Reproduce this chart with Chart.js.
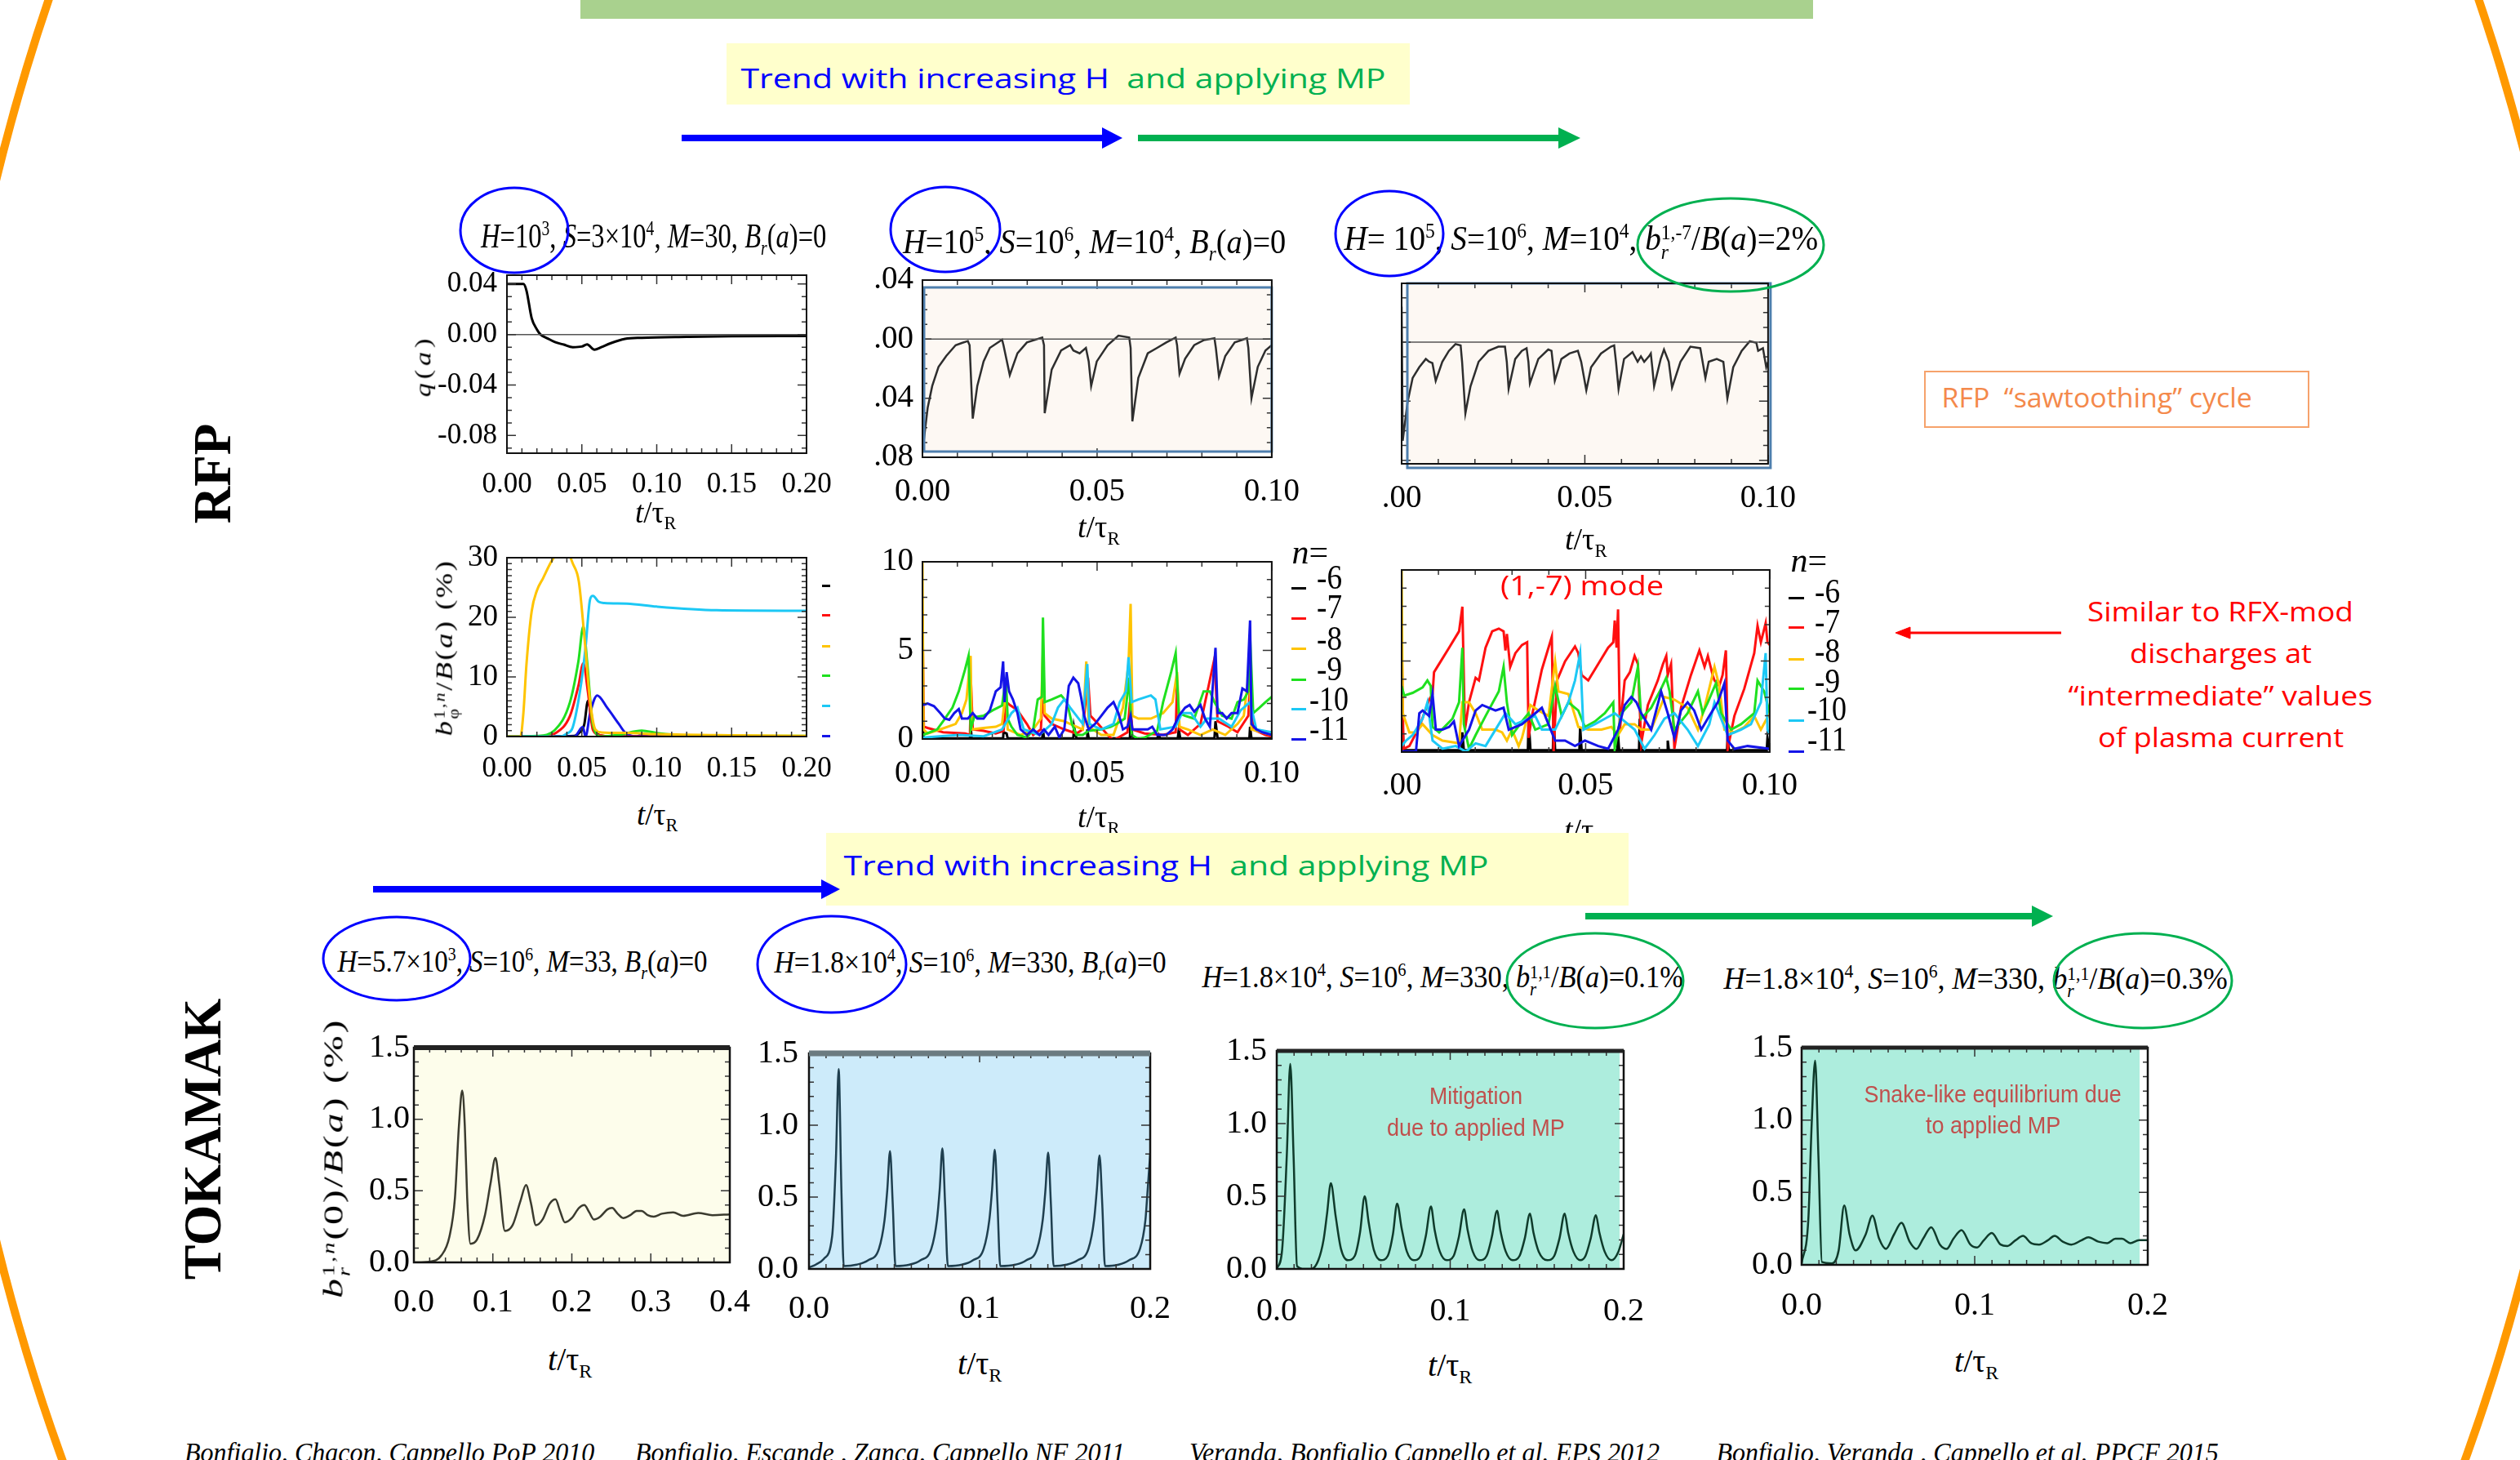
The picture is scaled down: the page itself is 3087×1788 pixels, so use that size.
<!DOCTYPE html>
<html>
<head>
<meta charset="utf-8">
<title>RFP / Tokamak trend with H and MP</title>
<script src="https://cdn.jsdelivr.net/npm/chart.js@4.4.1/dist/chart.umd.min.js"></script>
<style>
  html, body { margin: 0; padding: 0; background: #fff; }
  #page { position: relative; width: 3087px; height: 1788px; overflow: hidden; background: #fff; }
  #charts canvas { position: absolute; }
  .t { position: absolute; white-space: nowrap; line-height: 1; color: #000;
       font-family: 'Liberation Serif', 'Times New Roman', serif; transform-origin: 50% 50%; }
  .t sup, .t sub { line-height: 0; font-size: .6em; }
  .ss { display: inline-block; vertical-align: -0.45em; line-height: .95; font-size: .6em; }
  .ss span { display: block; }
  .sans { font-family: 'Open Sans', 'Noto Sans', sans-serif; }
  .narrow { font-family: 'Liberation Sans Narrow', 'Liberation Sans', sans-serif; }
  .box { position: absolute; }
  .dash { position: absolute; height: 3px; }
  #deco { position: absolute; left: 0; top: 0; }
</style>
</head>
<body>
<div id="page">
  <div class="box" style="left:711px;top:0;width:1510px;height:23px;background:#A9D18E;"></div>

  <div id="charts"></div>

  <!-- panel titles -->
  <div class="t" style="font-size:42px" data-cx="800" data-cy="289" data-w="423"><i>H</i>=10<sup>3</sup>, <i>S</i>=3×10<sup>4</sup>, <i>M</i>=30, <i>B<sub>r</sub></i>(<i>a</i>)=0</div>
  <div class="t" style="font-size:42px" data-cx="1340" data-cy="296" data-w="469"><i>H</i>=10<sup>5</sup>, <i>S</i>=10<sup>6</sup>, <i>M</i>=10<sup>4</sup>, <i>B<sub>r</sub></i>(<i>a</i>)=0</div>
  <div class="t" style="font-size:42px" data-cx="1937" data-cy="296" data-w="581"><i>H</i>= 10<sup>5</sup>, <i>S</i>=10<sup>6</sup>, <i>M</i>=10<sup>4</sup>, <i>b</i><span class="ss"><span>1,-7</span><span><i>r</i></span></span>/<i>B</i>(<i>a</i>)=2%</div>
  <div class="t" style="font-size:38px" data-cx="640" data-cy="1177" data-w="453"><i>H</i>=5.7×10<sup>3</sup>, <i>S</i>=10<sup>6</sup>, <i>M</i>=33, <i>B<sub>r</sub></i>(<i>a</i>)=0</div>
  <div class="t" style="font-size:38px" data-cx="1188" data-cy="1178" data-w="480"><i>H</i>=1.8×10<sup>4</sup>, <i>S</i>=10<sup>6</sup>, <i>M</i>=330, <i>B<sub>r</sub></i>(<i>a</i>)=0</div>
  <div class="t" style="font-size:38px" data-cx="1767" data-cy="1200" data-w="589"><i>H</i>=1.8×10<sup>4</sup>, <i>S</i>=10<sup>6</sup>, <i>M</i>=330, <i>b</i><span class="ss"><span>1,1</span><span><i>r</i></span></span>/<i>B</i>(<i>a</i>)=0.1%</div>
  <div class="t" style="font-size:38px" data-cx="2420" data-cy="1202" data-w="617"><i>H</i>=1.8×10<sup>4</sup>, <i>S</i>=10<sup>6</sup>, <i>M</i>=330, <i>b</i><span class="ss"><span>1,1</span><span><i>r</i></span></span>/<i>B</i>(<i>a</i>)=0.3%</div>

  <!-- axis titles -->
  <div class="t" style="font-size:37px" data-cx="803" data-cy="627"><i>t</i>/τ<sub>R</sub></div>
  <div class="t" style="font-size:37px" data-cx="805" data-cy="997"><i>t</i>/τ<sub>R</sub></div>
  <div class="t" style="font-size:38px" data-cx="1346" data-cy="645"><i>t</i>/τ<sub>R</sub></div>
  <div class="t" style="font-size:38px" data-cx="1346" data-cy="1000"><i>t</i>/τ<sub>R</sub></div>
  <div class="t" style="font-size:38px" data-cx="1943" data-cy="660"><i>t</i>/τ<sub>R</sub></div>
  <div class="t" style="font-size:38px" data-cx="1942" data-cy="1016"><i>t</i>/τ<sub>R</sub></div>
  <div class="t" style="font-size:40px" data-cx="698" data-cy="1665"><i>t</i>/τ<sub>R</sub></div>
  <div class="t" style="font-size:40px" data-cx="1200" data-cy="1670"><i>t</i>/τ<sub>R</sub></div>
  <div class="t" style="font-size:40px" data-cx="1776" data-cy="1672"><i>t</i>/τ<sub>R</sub></div>
  <div class="t" style="font-size:40px" data-cx="2421" data-cy="1667"><i>t</i>/τ<sub>R</sub></div>

  <div class="t" style="font-size:28px;letter-spacing:4px" data-cx="518" data-cy="448" data-w="77" data-rot="1"><i>q</i>(<i>a</i>)</div>
  <div class="t" style="font-size:30px;letter-spacing:2px" data-cx="547" data-cy="793" data-w="217" data-rot="1"><i>b</i><span class="ss"><span>1,<i>n</i></span><span>φ</span></span>/<i>B</i>(<i>a</i>) (%)</div>
  <div class="t" style="font-size:34px;letter-spacing:2px" data-cx="412" data-cy="1418" data-w="344" data-rot="1"><i>b</i><span class="ss"><span>1,<i>n</i></span><span><i>r</i></span></span>(0)/<i>B</i>(<i>a</i>) (%)</div>

  <div class="t" style="font-size:66px;font-weight:bold" data-cx="260" data-cy="580" data-w="122" data-rot="1">RFP</div>
  <div class="t" style="font-size:66px;font-weight:bold" data-cx="248" data-cy="1395" data-w="344" data-rot="1">TOKAMAK</div>

  <!-- mode legends -->
  <div id="legends"></div>
  <div class="t" style="font-size:42px" data-cx="1605" data-cy="676"><i>n</i>=</div>
  <div class="t" style="font-size:42px" data-cx="2216" data-cy="686"><i>n</i>=</div>

  <div class="t sans" style="font-size:33px;color:#FF0000" data-cx="1938" data-cy="716" data-w="200">(1,-7) mode</div>

  <div class="t narrow" style="font-size:29px;color:#C0504D" data-cx="1808" data-cy="1342" data-w="114">Mitigation</div>
  <div class="t narrow" style="font-size:29px;color:#C0504D" data-cx="1808" data-cy="1381" data-w="218">due to applied MP</div>
  <div class="t narrow" style="font-size:29px;color:#C0504D" data-cx="2441" data-cy="1340" data-w="315">Snake-like equilibrium due</div>
  <div class="t narrow" style="font-size:29px;color:#C0504D" data-cx="2441" data-cy="1378" data-w="165">to applied MP</div>

  <!-- right column notes -->
  <div class="box" style="left:2357px;top:454px;width:468px;height:66px;border:2px solid #F6A26B;"></div>
  <div class="t sans" style="font-size:32px;color:#F4894B" data-cx="2568" data-cy="487" data-w="380">RFP&nbsp; “sawtoothing” cycle</div>
  <div class="t sans" style="font-size:33px;color:#FF0000" data-cx="2720" data-cy="748" data-w="326">Similar to RFX-mod</div>
  <div class="t sans" style="font-size:33px;color:#FF0000" data-cx="2720" data-cy="799" data-w="223">discharges at</div>
  <div class="t sans" style="font-size:33px;color:#FF0000" data-cx="2720" data-cy="851" data-w="373">“intermediate” values</div>
  <div class="t sans" style="font-size:33px;color:#FF0000" data-cx="2720" data-cy="902" data-w="301">of plasma current</div>

  <!-- trend boxes -->
  <div class="box" style="left:890px;top:53px;width:837px;height:75px;background:#FFFFCC;"></div>
  <div class="t sans" style="font-size:32px" data-cx="1302" data-cy="96" data-w="790"><span style="color:#0000FF">Trend with increasing H</span>&nbsp;&nbsp;<span style="color:#00B050">and applying MP</span></div>
  <div class="box" style="left:1012px;top:1020px;width:983px;height:89px;background:#FFFFCC;"></div>
  <div class="t sans" style="font-size:32px" data-cx="1428" data-cy="1060" data-w="790"><span style="color:#0000FF">Trend with increasing H</span>&nbsp;&nbsp;<span style="color:#00B050">and applying MP</span></div>

  <!-- references -->
  <div class="t" style="font-size:33px;font-style:italic" data-cx="477" data-cy="1779" data-w="502">Bonfiglio, Chacon, Cappello PoP 2010</div>
  <div class="t" style="font-size:33px;font-style:italic" data-cx="1078" data-cy="1779" data-w="600">Bonfiglio, Escande , Zanca, Cappello NF 2011</div>
  <div class="t" style="font-size:33px;font-style:italic" data-cx="1745" data-cy="1779" data-w="576">Veranda, Bonfiglio Cappello et al. EPS 2012</div>
  <div class="t" style="font-size:33px;font-style:italic" data-cx="2410" data-cy="1779" data-w="615">Bonfiglio, Veranda , Cappello et al. PPCF 2015</div>

  <svg id="deco" width="3087" height="1788" viewBox="0 0 3087 1788">
    <ellipse cx="1548" cy="870" rx="1630" ry="2135" fill="none" stroke="#FF9900" stroke-width="10"/>
    <g fill="none" stroke="#0000FF" stroke-width="3">
      <ellipse cx="630" cy="282" rx="66" ry="52"/>
      <ellipse cx="1158" cy="281" rx="67" ry="52"/>
      <ellipse cx="1702" cy="286" rx="66" ry="52"/>
      <ellipse cx="486" cy="1174" rx="90" ry="51"/>
      <ellipse cx="1019" cy="1181" rx="91" ry="59"/>
    </g>
    <g fill="none" stroke="#00B050" stroke-width="3">
      <ellipse cx="2120" cy="300" rx="114" ry="57"/>
      <ellipse cx="1954" cy="1201" rx="108" ry="58"/>
      <ellipse cx="2625" cy="1201" rx="109" ry="58"/>
    </g>
    <g fill="#0000FF">
      <rect x="835" y="165" width="517" height="8"/>
      <polygon points="1350,156 1375,169 1350,182"/>
      <rect x="457" y="1085" width="551" height="8"/>
      <polygon points="1006,1077 1029,1089 1006,1101"/>
    </g>
    <g fill="#00B050">
      <rect x="1394" y="165" width="517" height="8"/>
      <polygon points="1909,156 1936,169 1909,182"/>
      <rect x="1942" y="1118" width="549" height="8"/>
      <polygon points="2489,1109 2515,1122 2489,1135"/>
    </g>
    <g fill="#FF0000" stroke="#FF0000">
      <line x1="2525" y1="775" x2="2336" y2="775" stroke-width="3"/>
      <polygon points="2322,775 2340,768 2340,782" stroke-width="1"/>
    </g>
  </svg>
</div>

<script>
// ---- data (t / tau_R, value) ----

// RFP, H=1e3: q(a)
const qa_H1e3 = [[0,0.040],[0.011,0.040],[0.013,0.035],[0.0165,0.013],[0.020,0.004],[0.0224,0.000],[0.027,-0.003],[0.032,-0.006],[0.038,-0.008],[0.044,-0.0100],[0.050,-0.0095],[0.0535,-0.0078],[0.0584,-0.0120],[0.063,-0.0100],[0.069,-0.0070],[0.0788,-0.0035],[0.090,-0.0026],[0.120,-0.0018],[0.150,-0.0013],[0.200,-0.0012]];

// RFP, H=1e3: b_phi^(1,n)/B(a) (%)
const bphi_H1e3_n6 = [[0,0],[0.045,0.1],[0.0477,0.5],[0.0516,2],[0.0541,6],[0.0574,1.6],[0.0613,0.3],[0.070,0],[0.200,0]];
const bphi_H1e3_n7 = [[0,0],[0.025,0.1],[0.032,0.5],[0.042,3.4],[0.0477,8.5],[0.051,12.3],[0.054,7.6],[0.0574,1.1],[0.062,0.2],[0.070,0],[0.200,0]];
const bphi_H1e3_n8 = [[0,0],[0.009,0],[0.011,4],[0.013,12],[0.0165,21],[0.020,24.5],[0.024,26.5],[0.030,29.5],[0.035,31],[0.040,31],[0.044,29],[0.048,26],[0.0516,17],[0.0555,6],[0.059,1.2],[0.063,0.7],[0.080,0.6],[0.100,0.4],[0.150,0.2],[0.200,0.1]];
const bphi_H1e3_n9 = [[0,0],[0.020,0.1],[0.032,1.1],[0.042,5.7],[0.0477,12.6],[0.051,18.5],[0.0535,12.6],[0.0574,2],[0.063,0],[0.075,0.3],[0.090,1.0],[0.100,0.6],[0.120,0.2],[0.200,0.1]];
const bphi_H1e3_n10 = [[0,0],[0.035,0],[0.040,0.5],[0.044,1.6],[0.0496,9],[0.0525,15],[0.0555,23],[0.0574,23.6],[0.0613,22.6],[0.065,22.4],[0.080,22.3],[0.100,21.8],[0.140,21.2],[0.200,21.1]];
const bphi_H1e3_n11 = [[0,0],[0.045,0],[0.0506,1.6],[0.0525,0],[0.0555,3.9],[0.0603,6.9],[0.067,4.8],[0.075,2],[0.0788,0.7],[0.0866,0],[0.090,0.3],[0.095,0],[0.200,0]];

// RFP, H=1e5: q(a)
const qa_H1e5 = [[0,0.020],[0.0002,-0.0722],[0.0015,-0.0464],[0.0028,-0.0317],[0.0046,-0.0188],[0.0068,-0.0114],[0.0095,-0.0041],[0.0113,-0.0026],[0.0130,-0.0013],[0.0135,-0.0041],[0.0144,-0.0538],[0.0157,-0.0317],[0.0175,-0.0151],[0.0193,-0.0059],[0.0228,-0.0004],[0.0232,-0.0041],[0.0250,-0.0243],[0.0272,-0.0096],[0.0299,-0.0022],[0.0343,0.0011],[0.0348,-0.0041],[0.0350,-0.0501],[0.0370,-0.0206],[0.0397,-0.0077],[0.0423,-0.0041],[0.0432,-0.0077],[0.0450,-0.0096],[0.0468,-0.0059],[0.0476,-0.0151],[0.0483,-0.0317],[0.0499,-0.0151],[0.0530,-0.0041],[0.0561,0.0024],[0.0592,0.0011],[0.0596,-0.0059],[0.0601,-0.0557],[0.0618,-0.0262],[0.0645,-0.0096],[0.0672,-0.0059],[0.0698,-0.0022],[0.0725,0.0011],[0.0729,-0.0041],[0.0736,-0.0234],[0.0752,-0.0133],[0.0778,-0.0041],[0.0805,-0.0007],[0.0836,0.0006],[0.0840,-0.0059],[0.0849,-0.0252],[0.0867,-0.0114],[0.0894,-0.0022],[0.0929,0.0006],[0.0933,-0.0059],[0.0942,-0.0400],[0.0960,-0.0188],[0.0982,-0.0077],[0.1000,-0.0041]];

// RFP, H=1e5 with b_r^(1,-7)=2%: q(a)
const qa_H1e5_MP = [[0,0.024],[0.0003,-0.0668],[0.0016,-0.0409],[0.0030,-0.0243],[0.0048,-0.0170],[0.0066,-0.0114],[0.0075,-0.0133],[0.0084,-0.0142],[0.0093,-0.0262],[0.0111,-0.0133],[0.0129,-0.0059],[0.0147,-0.0013],[0.0161,-0.0022],[0.0165,-0.0133],[0.0174,-0.0483],[0.0188,-0.0299],[0.0210,-0.0133],[0.0237,-0.0059],[0.0264,-0.0031],[0.0282,-0.0031],[0.0287,-0.0133],[0.0292,-0.0317],[0.0310,-0.0114],[0.0328,-0.0059],[0.0341,-0.0041],[0.0346,-0.0133],[0.0350,-0.0280],[0.0373,-0.0114],[0.0400,-0.0050],[0.0409,-0.0059],[0.0418,-0.0262],[0.0436,-0.0114],[0.0458,-0.0077],[0.0481,-0.0059],[0.0490,-0.0133],[0.0504,-0.0326],[0.0517,-0.0170],[0.0544,-0.0077],[0.0571,-0.0031],[0.0580,-0.0022],[0.0585,-0.0133],[0.0592,-0.0317],[0.0607,-0.0114],[0.0630,-0.0068],[0.0644,-0.0133],[0.0653,-0.0096],[0.0662,-0.0133],[0.0675,-0.0096],[0.0680,-0.0077],[0.0684,-0.0170],[0.0689,-0.0299],[0.0707,-0.0114],[0.0716,-0.0050],[0.0729,-0.0133],[0.0738,-0.0308],[0.0761,-0.0133],[0.0788,-0.0031],[0.0815,-0.0041],[0.0829,-0.0243],[0.0838,-0.0133],[0.0860,-0.0114],[0.0878,-0.0133],[0.0889,-0.0382],[0.0905,-0.0170],[0.0928,-0.0059],[0.0950,0.0006],[0.0968,-0.0004],[0.0973,-0.0059],[0.0986,-0.0041],[0.0995,-0.0170],[0.1000,-0.0133]];

// RFP, H=1e5: b^(1,n)/B(a) (%)
const br_H1e5_n6 = [[0,3.62],[0.0003,0.03],[0.0136,0.03],[0.0138,0.69],[0.0141,0.03],[0.0231,0.03],[0.0232,0.38],[0.0241,0.31],[0.0244,0.03],[0.0343,0.03],[0.0345,0.54],[0.0348,0.03],[0.0432,0.03],[0.0434,0.69],[0.0441,0.03],[0.0470,0.03],[0.0472,0.54],[0.0476,0.03],[0.0594,0.03],[0.0596,1.46],[0.0601,0.03],[0.0672,0.03],[0.0676,0.23],[0.0681,0.03],[0.0731,0.03],[0.0734,0.54],[0.0738,0.03],[0.0836,0.03],[0.0839,1.0],[0.0845,0.03],[0.0936,0.03],[0.0938,0.69],[0.0942,0.03],[0.1000,0.03]];
const br_H1e5_n7 = [[0,7.15],[0.0004,0.69],[0.0015,0.62],[0.0059,0.38],[0.0122,0.31],[0.0136,0.23],[0.0139,3.15],[0.0144,0.54],[0.0175,0.46],[0.0210,0.31],[0.0232,0.46],[0.0241,2.08],[0.0250,1.92],[0.0272,1.62],[0.0299,0.85],[0.0317,0.23],[0.0339,0.54],[0.0343,2.08],[0.0350,1.31],[0.0370,0.85],[0.0406,0.54],[0.0441,0.31],[0.0459,0.54],[0.0474,3.46],[0.0481,1.31],[0.0503,0.85],[0.0530,0.23],[0.0547,-0.08],[0.0587,0.38],[0.0594,2.08],[0.0601,0.54],[0.0636,0.31],[0.0689,0.23],[0.0725,0.38],[0.0729,3.15],[0.0736,0.54],[0.0760,0.23],[0.0796,0.85],[0.0836,4.54],[0.0845,1.0],[0.0876,0.69],[0.0902,0.38],[0.0933,1.31],[0.0938,3.15],[0.0947,0.54],[0.0982,0.23],[0.1000,0.15]];
const br_H1e5_n8 = [[0,10],[0.0003,0.54],[0.0015,0.31],[0.0051,0.54],[0.0095,0.85],[0.0113,1.46],[0.0126,2.23],[0.0138,4.69],[0.0141,0.54],[0.0175,0.62],[0.0210,0.69],[0.0228,0.85],[0.0239,2.85],[0.0244,0.54],[0.0281,0.23],[0.0317,0.54],[0.0339,1.15],[0.0345,5.0],[0.0350,1.46],[0.0370,1.15],[0.0406,1.0],[0.0423,0.85],[0.0459,0.54],[0.0469,4.38],[0.0476,0.69],[0.0512,0.23],[0.0547,0.23],[0.0574,1.77],[0.0590,4.23],[0.0596,7.62],[0.0601,1.31],[0.0618,1.15],[0.0654,1.15],[0.0689,1.46],[0.0716,2.08],[0.0729,3.77],[0.0736,0.69],[0.0760,0.54],[0.0796,0.23],[0.0831,0.54],[0.0867,0.23],[0.0902,0.85],[0.0920,1.31],[0.0935,3.77],[0.0942,0.54],[0.1000,0.23]];
const br_H1e5_n9 = [[0.0002,0.23],[0.0042,0.54],[0.0059,1.0],[0.0086,1.77],[0.0104,2.69],[0.0122,3.92],[0.0132,4.69],[0.0138,0.54],[0.0148,1.23],[0.0175,1.31],[0.0201,1.62],[0.0228,1.89],[0.0239,3.46],[0.0244,1.15],[0.0255,0.69],[0.0272,0.23],[0.0299,0.08],[0.0317,0.54],[0.0330,2.23],[0.0342,2.38],[0.0345,6.85],[0.0350,2.08],[0.0370,2.23],[0.0397,2.46],[0.0414,2.08],[0.0428,0.85],[0.0441,0.23],[0.0459,0.23],[0.0476,0.46],[0.0512,0.54],[0.0539,0.69],[0.0556,0.85],[0.0579,1.15],[0.0592,3.46],[0.0599,0.23],[0.0618,0],[0.0636,0.08],[0.0672,0.46],[0.0689,2.08],[0.0712,3.77],[0.0725,4.85],[0.0734,1.46],[0.0752,1.31],[0.0778,1.15],[0.0805,2.69],[0.0823,2.69],[0.0836,2.08],[0.0858,1.31],[0.0885,1.15],[0.0902,2.08],[0.0920,2.23],[0.0933,2.69],[0.0938,5.77],[0.0947,1.46],[0.0965,1.77],[0.0982,2.08],[0.1000,2.38]];
const br_H1e5_n10 = [[0.0002,0.08],[0.0104,0.23],[0.0175,0.15],[0.0228,0.54],[0.0255,1.46],[0.0272,1.77],[0.0290,0.54],[0.0335,0.23],[0.0370,0.85],[0.0388,1.77],[0.0406,2.23],[0.0423,1.77],[0.0459,0.85],[0.0472,4.23],[0.0478,0.85],[0.0512,0.54],[0.0547,0.85],[0.0565,2.08],[0.0583,2.69],[0.0590,4.62],[0.0599,2.08],[0.0618,2.23],[0.0654,2.46],[0.0667,2.23],[0.0681,0.54],[0.0725,0.69],[0.0743,1.46],[0.0769,1.46],[0.0796,0.69],[0.0814,1.15],[0.0849,1.15],[0.0885,0.69],[0.0911,1.62],[0.0938,2.08],[0.0956,0.54],[0.1000,0.38]];
const br_H1e5_n11 = [[0.0002,1.92],[0.0015,2.0],[0.0033,1.85],[0.0051,1.46],[0.0064,1.15],[0.0077,1.08],[0.0091,1.46],[0.0104,1.69],[0.0113,1.15],[0.0130,1.15],[0.0144,1.46],[0.0157,1.15],[0.0175,1.15],[0.0193,1.62],[0.0210,2.69],[0.0224,2.92],[0.0231,4.38],[0.0235,2.08],[0.0241,3.77],[0.0248,2.69],[0.0259,2.23],[0.0272,1.46],[0.0281,0.54],[0.0299,0.23],[0.0317,0.54],[0.0335,0.23],[0.0348,0.54],[0.0361,0.23],[0.0379,0.69],[0.0392,0.08],[0.0406,0.54],[0.0419,3.0],[0.0432,3.46],[0.0446,3.15],[0.0454,2.38],[0.0463,1.31],[0.0476,0.54],[0.0494,0.85],[0.0512,1.31],[0.0530,1.77],[0.0547,2.08],[0.0561,1.46],[0.0574,0.54],[0.0587,0.69],[0.0596,1.31],[0.0601,0.54],[0.0618,0.54],[0.0645,0.54],[0.0658,0.69],[0.0672,0.23],[0.0698,0.23],[0.0716,0.54],[0.0734,1.31],[0.0752,1.77],[0.0765,1.92],[0.0778,1.54],[0.0796,1.92],[0.0809,1.15],[0.0823,0.69],[0.0839,5.15],[0.0845,1.46],[0.0858,1.46],[0.0871,1.15],[0.0885,1.46],[0.0902,1.46],[0.0916,2.85],[0.0929,2.69],[0.0938,6.69],[0.0942,0.85],[0.0956,0.54],[0.0973,0.38],[0.1000,0.23]];

// RFP, H=1e5 with MP: b^(1,n)/B(a) (%)
const br_MP_n6 = [[0,3.70],[0.0005,0.10],[0.0163,0.10],[0.0165,1.08],[0.0169,0.10],[0.0343,0.10],[0.0345,1.83],[0.0350,0.10],[0.0411,0.10],[0.0413,1.98],[0.0417,0.10],[0.0483,0.10],[0.0485,1.38],[0.0489,0.10],[0.0586,0.10],[0.0588,0.93],[0.0591,0.10],[0.0645,0.10],[0.0647,1.83],[0.0651,0.10],[0.0721,0.10],[0.0723,0.63],[0.0726,0.10],[0.0884,0.10],[0.0886,0.93],[0.0889,0.10],[0.0992,0.10],[0.0994,0.78],[0.1000,0.10]];
const br_MP_n7 = [[0,6.48],[0.0005,0.18],[0.0021,0.33],[0.0048,1.38],[0.0075,2.88],[0.0084,3.18],[0.0088,4.38],[0.0097,4.68],[0.0129,5.73],[0.0156,6.63],[0.0165,7.98],[0.0172,1.23],[0.0183,2.73],[0.0201,4.08],[0.0210,3.93],[0.0228,5.73],[0.0246,6.63],[0.0264,6.78],[0.0277,6.63],[0.0282,5.58],[0.0286,6.48],[0.0295,4.68],[0.0309,5.43],[0.0327,5.88],[0.0341,6.03],[0.0345,0.78],[0.0354,1.98],[0.0381,4.53],[0.0408,6.33],[0.0413,0.03],[0.0422,3.93],[0.0444,4.98],[0.0471,5.80],[0.0480,5.43],[0.0489,4.23],[0.0507,3.93],[0.0534,4.83],[0.0561,5.73],[0.0575,6.03],[0.0579,7.23],[0.0584,5.73],[0.0588,7.83],[0.0593,1.23],[0.0606,3.93],[0.0620,4.38],[0.0633,5.28],[0.0642,4.83],[0.0651,0.48],[0.0669,2.58],[0.0696,3.93],[0.0710,4.83],[0.0719,5.28],[0.0723,4.23],[0.0732,4.83],[0.0741,0.18],[0.0759,2.43],[0.0786,4.23],[0.0809,5.58],[0.0823,4.68],[0.0832,5.28],[0.0845,4.23],[0.0850,3.93],[0.0863,3.63],[0.0872,4.23],[0.0881,5.58],[0.0886,0.18],[0.0904,1.98],[0.0931,3.48],[0.0958,5.43],[0.0967,6.93],[0.0976,6.03],[0.0989,7.08],[0.0994,6.03],[0.1000,5.88]];
const br_MP_n8 = [[0,10],[0.0003,2.13],[0.0021,1.08],[0.0039,1.08],[0.0057,1.53],[0.0084,0.93],[0.0111,0.63],[0.0156,0.48],[0.0165,2.73],[0.0183,2.73],[0.0201,2.13],[0.0219,1.23],[0.0255,1.23],[0.0273,1.08],[0.0286,0.63],[0.0300,1.23],[0.0318,0.33],[0.0327,0.78],[0.0350,2.58],[0.0372,2.28],[0.0399,1.98],[0.0417,4.98],[0.0426,3.33],[0.0453,3.18],[0.0480,1.38],[0.0507,1.23],[0.0543,1.23],[0.0570,1.38],[0.0588,0.93],[0.0606,1.53],[0.0633,1.53],[0.0651,1.23],[0.0678,1.23],[0.0714,3.03],[0.0741,2.88],[0.0777,2.43],[0.0805,1.23],[0.0823,2.43],[0.0850,4.68],[0.0863,3.63],[0.0877,1.23],[0.0904,1.08],[0.0931,1.38],[0.0958,1.98],[0.0976,1.23],[0.1000,2.13]];
const br_MP_n9 = [[0,3.63],[0.0007,3.10],[0.0030,3.25],[0.0057,3.55],[0.0070,3.93],[0.0079,3.63],[0.0084,1.38],[0.0102,1.08],[0.0138,1.83],[0.0156,2.73],[0.0165,5.73],[0.0169,1.53],[0.0183,0.18],[0.0201,0.93],[0.0228,1.98],[0.0264,3.33],[0.0277,4.68],[0.0286,2.73],[0.0300,0.93],[0.0327,1.68],[0.0345,2.13],[0.0363,1.23],[0.0399,1.53],[0.0417,3.63],[0.0435,1.98],[0.0453,2.73],[0.0480,2.28],[0.0498,1.38],[0.0525,1.68],[0.0552,2.13],[0.0575,2.73],[0.0579,0.18],[0.0597,2.13],[0.0624,2.73],[0.0642,4.68],[0.0651,1.83],[0.0678,2.43],[0.0705,3.48],[0.0719,4.08],[0.0728,3.33],[0.0741,1.23],[0.0777,2.13],[0.0805,3.33],[0.0818,2.13],[0.0832,2.73],[0.0854,3.78],[0.0868,2.13],[0.0895,1.23],[0.0922,1.53],[0.0958,2.13],[0.0967,3.93],[0.0985,3.33],[0.1000,2.13]];
const br_MP_n10 = [[0,0.33],[0.0012,0.63],[0.0030,0.93],[0.0057,1.83],[0.0070,2.73],[0.0084,0.63],[0.0111,0.18],[0.0147,0.33],[0.0174,0.03],[0.0201,0.48],[0.0228,0.33],[0.0264,1.53],[0.0282,2.13],[0.0309,1.53],[0.0345,1.83],[0.0363,1.98],[0.0381,1.23],[0.0417,1.23],[0.0453,2.73],[0.0471,3.93],[0.0485,5.43],[0.0494,1.23],[0.0525,1.53],[0.0552,1.83],[0.0579,2.13],[0.0597,1.83],[0.0633,1.23],[0.0660,0.18],[0.0687,0.93],[0.0714,1.83],[0.0741,2.13],[0.0777,1.23],[0.0805,0.33],[0.0836,1.53],[0.0850,2.73],[0.0886,0.93],[0.0922,1.23],[0.0949,1.53],[0.0976,2.73],[0.0989,5.43],[0.0994,1.23],[0.1000,1.00]];
const br_MP_n11 = [[0,0.03],[0.0039,0.03],[0.0048,2.13],[0.0057,2.28],[0.0075,1.98],[0.0084,3.18],[0.0093,1.23],[0.0111,1.23],[0.0129,1.38],[0.0142,1.68],[0.0156,0.33],[0.0183,1.23],[0.0201,2.28],[0.0219,2.58],[0.0255,2.28],[0.0277,2.43],[0.0291,1.23],[0.0327,1.53],[0.0363,2.13],[0.0381,2.43],[0.0399,1.53],[0.0417,0.63],[0.0444,0.63],[0.0471,0.33],[0.0498,0.63],[0.0534,0.33],[0.0561,0.18],[0.0588,1.23],[0.0606,2.58],[0.0624,3.03],[0.0638,2.73],[0.0651,2.13],[0.0678,1.23],[0.0705,3.33],[0.0723,2.13],[0.0741,0.78],[0.0759,2.28],[0.0777,2.73],[0.0795,2.28],[0.0814,1.23],[0.0836,1.98],[0.0859,2.73],[0.0877,3.78],[0.0886,0.63],[0.0904,0.18],[0.0940,0.33],[0.1000,0.18]];

// Tokamak: b_r^(1,n)(0)/B(a) (%)
const tok_H57e2 = [[0,0],[0.02,0.005],[0.035,0.05],[0.045,0.18],[0.052,0.45],[0.057,0.95],[0.0612,1.20],[0.0645,0.95],[0.0675,0.45],[0.0717,0.13],[0.080,0.16],[0.090,0.33],[0.097,0.55],[0.1033,0.73],[0.108,0.55],[0.1153,0.22],[0.125,0.26],[0.135,0.43],[0.142,0.54],[0.148,0.42],[0.1546,0.26],[0.163,0.30],[0.172,0.41],[0.1793,0.44],[0.185,0.36],[0.1912,0.28],[0.200,0.31],[0.209,0.38],[0.2158,0.40],[0.222,0.35],[0.2278,0.30],[0.236,0.32],[0.245,0.37],[0.251,0.38],[0.258,0.34],[0.265,0.31],[0.274,0.33],[0.282,0.36],[0.2883,0.36],[0.296,0.33],[0.3037,0.32],[0.314,0.34],[0.3283,0.35],[0.341,0.325],[0.360,0.345],[0.378,0.33],[0.400,0.335]];
const tok_H18e3 = [[0,0.01],[0.004,0.03],[0.0087,0.07],[0.0136,0.23],[0.0158,0.77],[0.0174,1.39],[0.019,0.55],[0.0204,0.02],[0.028,0.03],[0.0346,0.06],[0.041,0.14],[0.0443,0.34],[0.0459,0.55],[0.0475,0.82],[0.0491,0.45],[0.0507,0.02],[0.059,0.03],[0.0653,0.06],[0.0717,0.14],[0.075,0.34],[0.0766,0.55],[0.0782,0.84],[0.0798,0.45],[0.0814,0.02],[0.0897,0.03],[0.096,0.06],[0.1024,0.14],[0.1057,0.34],[0.1073,0.55],[0.1089,0.83],[0.1105,0.45],[0.1121,0.02],[0.121,0.03],[0.1273,0.06],[0.1337,0.14],[0.137,0.34],[0.1386,0.55],[0.1402,0.81],[0.1418,0.45],[0.1434,0.02],[0.151,0.03],[0.1574,0.06],[0.1638,0.14],[0.1671,0.34],[0.1687,0.55],[0.1703,0.79],[0.1719,0.45],[0.1735,0.02],[0.1815,0.03],[0.1875,0.06],[0.194,0.14],[0.1972,0.34],[0.1985,0.55],[0.2,0.80]];
const tok_MP01 = [[0,0],[0.0031,0.13],[0.0058,0.78],[0.0078,1.41],[0.0097,0.78],[0.0117,0.02],[0.016,0.0],[0.020,0.0],[0.024,0.06],[0.027,0.2],[0.029,0.38],[0.0312,0.59],[0.034,0.36],[0.037,0.14],[0.041,0.06],[0.045,0.09],[0.048,0.25],[0.0507,0.50],[0.053,0.32],[0.056,0.13],[0.060,0.06],[0.064,0.09],[0.067,0.24],[0.0694,0.45],[0.072,0.28],[0.075,0.12],[0.079,0.06],[0.083,0.09],[0.086,0.23],[0.0889,0.43],[0.091,0.27],[0.094,0.12],[0.098,0.06],[0.102,0.09],[0.105,0.22],[0.108,0.41],[0.110,0.27],[0.113,0.12],[0.117,0.06],[0.121,0.09],[0.124,0.22],[0.127,0.40],[0.129,0.26],[0.132,0.12],[0.136,0.06],[0.140,0.09],[0.143,0.21],[0.146,0.38],[0.148,0.25],[0.151,0.12],[0.156,0.06],[0.160,0.09],[0.163,0.21],[0.166,0.38],[0.168,0.25],[0.171,0.12],[0.175,0.06],[0.178,0.09],[0.181,0.21],[0.184,0.37],[0.186,0.25],[0.189,0.12],[0.193,0.06],[0.197,0.12],[0.200,0.24]];
const tok_MP03 = [[0,0.01],[0.0039,0.32],[0.0058,0.97],[0.0078,1.41],[0.0097,0.75],[0.0117,0.02],[0.0175,0.01],[0.0214,0.10],[0.0246,0.41],[0.0277,0.21],[0.0312,0.10],[0.037,0.21],[0.0409,0.34],[0.0448,0.18],[0.0487,0.11],[0.0534,0.21],[0.0577,0.29],[0.0624,0.16],[0.0663,0.11],[0.0702,0.18],[0.0749,0.26],[0.0799,0.14],[0.0838,0.11],[0.0877,0.18],[0.0924,0.24],[0.0975,0.14],[0.1014,0.12],[0.1053,0.17],[0.1099,0.22],[0.115,0.14],[0.1189,0.13],[0.1236,0.17],[0.1279,0.20],[0.1326,0.15],[0.1372,0.14],[0.1423,0.17],[0.1462,0.20],[0.1509,0.16],[0.1559,0.14],[0.1618,0.17],[0.1657,0.19],[0.1715,0.16],[0.1766,0.15],[0.1813,0.18],[0.1852,0.18],[0.1899,0.15],[0.195,0.17],[0.200,0.17]];

const zero02 = [[0,0],[0.2,0]];
const zero01 = [[0,0],[0.1,0]];

// ticks / labels
const ticksT02 = [0, 0.05, 0.10, 0.15, 0.20];
const labelsT02 = ['0.00', '0.05', '0.10', '0.15', '0.20'];
const ticksT01 = [0, 0.05, 0.10];
const labelsT01 = ['0.00', '0.05', '0.10'];
const labelsT01cut = ['.00', '0.05', '0.10'];
const ticksQ = [-0.08, -0.04, 0, 0.04];
const labelsQ1 = ['-0.08', '-0.04', '0.00', '0.04'];
const labelsQcut = ['.08', '.04', '.00', '.04'];
const ticksB30 = [0, 10, 20, 30];
const labelsB30 = ['0', '10', '20', '30'];
const ticksB10 = [0, 5, 10];
const labelsB10 = ['0', '5', '10'];
const ticksTok04 = [0, 0.1, 0.2, 0.3, 0.4];
const labelsTok04 = ['0.0', '0.1', '0.2', '0.3', '0.4'];
const ticksTok02 = [0, 0.1, 0.2];
const labelsTok02 = ['0.0', '0.1', '0.2'];
const ticksTokY = [0, 0.5, 1.0, 1.5];
const labelsTokY = ['0.0', '0.5', '1.0', '1.5'];

const modeNames = ['-6', '-7', '-8', '-9', '-10', '-11'];
const modeColors = ['#000000', '#FF1010', '#FFC400', '#1FE01F', '#1CC8F5', '#1414E8'];

// ---- drawing ----
const PAD = { l: 110, t: 40, r: 50, b: 75 };
const SERIF = "'Liberation Serif', 'Times New Roman', serif";

function minorVals(min, max, step) {
  const out = [];
  for (let k = Math.ceil(min / step - 1e-6); k <= Math.floor(max / step + 1e-6); k++) out.push(k * step);
  return out;
}

// plot background, inward tick marks and frame
function decor(p) {
  return {
    id: 'decor',
    beforeDatasetsDraw(chart) {
      const a = chart.chartArea, ctx = chart.ctx;
      const f = p.fillInset || { l: 0, t: 0, r: 0, b: 0 };
      if (p.bg) {
        ctx.save();
        ctx.fillStyle = p.bg;
        ctx.fillRect(a.left + f.l, a.top + f.t, a.width - f.l - f.r, a.height - f.t - f.b);
        ctx.restore();
      }
    },
    afterDatasetsDraw(chart) {
      const a = chart.chartArea, ctx = chart.ctx, xs = chart.scales.x, ys = chart.scales.y;
      ctx.save();
      ctx.strokeStyle = '#333';
      ctx.lineWidth = 1.5;
      ctx.beginPath();
      const tx = (v, len) => {
        const px = xs.getPixelForValue(v);
        ctx.moveTo(px, a.bottom); ctx.lineTo(px, a.bottom - len);
        ctx.moveTo(px, a.top); ctx.lineTo(px, a.top + len);
      };
      const ty = (v, len) => {
        const py = ys.getPixelForValue(v);
        ctx.moveTo(a.left, py); ctx.lineTo(a.left + len, py);
        ctx.moveTo(a.right, py); ctx.lineTo(a.right - len, py);
      };
      minorVals(p.x.min, p.x.max, p.x.minor).forEach(v => tx(v, 6));
      p.x.ticks.forEach(v => tx(v, 11));
      minorVals(p.y.min, p.y.max, p.y.minor).forEach(v => ty(v, 6));
      p.y.ticks.forEach(v => ty(v, 11));
      ctx.stroke();
      if (p.box) {
        const b = p.box;
        ctx.strokeStyle = b.color;
        ctx.lineWidth = b.width;
        ctx.strokeRect(a.left + b.l, a.top + b.t, a.width - b.l - b.r, a.height - b.t - b.b);
      }
      ctx.strokeStyle = '#111';
      ctx.lineWidth = p.frame || 2.5;
      ctx.strokeRect(a.left, a.top, a.width, a.height);
      if (p.topBar) {
        // heavy top edge seen on the tokamak frames
        ctx.strokeStyle = p.topBar.color;
        ctx.lineWidth = p.topBar.width;
        ctx.beginPath();
        ctx.moveTo(a.left, a.top);
        ctx.lineTo(a.right, a.top);
        ctx.stroke();
      }
      ctx.restore();
    }
  };
}

function axisOpts(dir, ax) {
  return {
    type: 'linear', min: ax.min, max: ax.max,
    grid: { display: false, drawTicks: false },
    border: { display: false },
    afterBuildTicks: s => { s.ticks = ax.ticks.map(v => ({ value: v })); },
    afterFit: s => { if (dir === 'x') s.height = PAD.b; else s.width = PAD.l; },
    ticks: {
      display: !!ax.labels, autoSkip: false, maxRotation: 0, minRotation: 0,
      padding: ax.pad || 0, color: '#000',
      font: { family: SERIF, size: ax.font || 36 },
      callback: (v, i) => ax.labels ? ax.labels[i] : ''
    }
  };
}

function makePanel(p) {
  const W = (p.area.r - p.area.l) + PAD.l + PAD.r;
  const H = (p.area.b - p.area.t) + PAD.t + PAD.b;
  const cv = document.createElement('canvas');
  cv.width = W; cv.height = H;
  cv.style.left = (p.area.l - PAD.l) + 'px';
  cv.style.top = (p.area.t - PAD.t) + 'px';
  cv.style.width = W + 'px';
  cv.style.height = H + 'px';
  document.getElementById('charts').appendChild(cv);
  return new Chart(cv.getContext('2d'), {
    type: 'line',
    data: {
      datasets: p.series.map(s => ({
        data: s.data, borderColor: s.color, borderWidth: s.width || 3,
        pointRadius: 0, fill: false, tension: s.smooth ? 0.4 : 0,
        cubicInterpolationMode: s.smooth ? 'monotone' : 'default'
      }))
    },
    options: {
      responsive: false, animation: false, devicePixelRatio: 1,
      layout: { padding: { left: 0, top: PAD.t, right: PAD.r, bottom: 0 } },
      plugins: { legend: { display: false }, tooltip: { enabled: false } },
      scales: { x: axisOpts('x', p.x), y: axisOpts('y', p.y) }
    },
    plugins: [decor(p)]
  });
}

const modeSeries = (arrs, order) => order.map(i => ({ data: arrs[i], color: modeColors[i], width: 3 }));

// RFP row 1
makePanel({
  area: { l: 621, t: 337, r: 988, b: 555 }, frame: 2,
  x: { min: 0, max: 0.2, ticks: ticksT02, labels: labelsT02, minor: 0.01, font: 35, pad: 18 },
  y: { min: -0.094, max: 0.047, ticks: ticksQ, labels: labelsQ1, minor: 0.01, font: 35, pad: 12 },
  series: [{ data: zero02, color: '#555', width: 1.5 }, { data: qa_H1e3, color: '#000', width: 3, smooth: true }]
});
makePanel({
  area: { l: 1130, t: 343, r: 1561, b: 560 }, frame: 2, bg: '#FDF8F3',
  fillInset: { l: 2, t: 9, r: 0, b: 7 },
  box: { l: 2, t: 9, r: 0, b: 7, color: '#4E7FAE', width: 3 },
  x: { min: 0, max: 0.1, ticks: ticksT01, labels: labelsT01, minor: 0.01, font: 39, pad: 19 },
  y: { min: -0.08, max: 0.04, ticks: ticksQ, labels: labelsQcut, minor: 0.01, font: 39, pad: 11 },
  series: [{ data: zero01, color: '#555', width: 1.5 }, { data: qa_H1e5, color: '#2E2E2E', width: 2.5 }]
});
makePanel({
  area: { l: 1717, t: 347, r: 2169, b: 568 }, frame: 2, bg: '#FDF8F3',
  fillInset: { l: 7, t: 0, r: -3, b: -5 },
  box: { l: 7, t: 0, r: -3, b: -5, color: '#4E7FAE', width: 3 },
  x: { min: 0, max: 0.1, ticks: ticksT01, labels: labelsT01cut, minor: 0.01, font: 39, pad: 19 },
  y: { min: -0.0824, max: 0.0398, ticks: ticksQ, minor: 0.01 },
  series: [{ data: zero01, color: '#555', width: 1.5 }, { data: qa_H1e5_MP, color: '#2E2E2E', width: 2.5 }]
});

// RFP row 2
const bphiSet = [bphi_H1e3_n6, bphi_H1e3_n7, bphi_H1e3_n8, bphi_H1e3_n9, bphi_H1e3_n10, bphi_H1e3_n11];
makePanel({
  area: { l: 621, t: 683, r: 988, b: 902 }, frame: 2,
  x: { min: 0, max: 0.2, ticks: ticksT02, labels: labelsT02, minor: 0.01, font: 35, pad: 19 },
  y: { min: 0, max: 30, ticks: ticksB30, labels: labelsB30, minor: 1, font: 37, pad: 11 },
  series: [2, 4, 3, 1, 5, 0].map(i => ({ data: bphiSet[i], color: modeColors[i], width: 3, smooth: true }))
});
makePanel({
  area: { l: 1130, t: 688, r: 1561, b: 905 }, frame: 2,
  x: { min: 0, max: 0.1, ticks: ticksT01, labels: labelsT01, minor: 0.01, font: 39, pad: 19 },
  y: { min: 0, max: 10, ticks: ticksB10, labels: labelsB10, minor: 1, font: 39, pad: 11 },
  series: modeSeries([br_H1e5_n6, br_H1e5_n7, br_H1e5_n8, br_H1e5_n9, br_H1e5_n10, br_H1e5_n11], [5, 4, 3, 2, 1, 0])
});
makePanel({
  area: { l: 1717, t: 698, r: 2170, b: 921 }, frame: 2,
  x: { min: 0, max: 0.1, ticks: ticksT01, labels: labelsT01cut, minor: 0.01, font: 39, pad: 18 },
  y: { min: 0, max: 10, ticks: ticksB10, minor: 1 },
  series: modeSeries([br_MP_n6, br_MP_n7, br_MP_n8, br_MP_n9, br_MP_n10, br_MP_n11], [5, 4, 3, 2, 1, 0])
});

// Tokamak row
makePanel({
  area: { l: 507, t: 1283, r: 894, b: 1546 }, bg: '#FDFDEB', topBar: { color: '#222', width: 6 },
  x: { min: 0, max: 0.4, ticks: ticksTok04, labels: labelsTok04, minor: 0.02, font: 40, pad: 25 },
  y: { min: 0, max: 1.5, ticks: ticksTokY, labels: labelsTokY, minor: 0.1, font: 40, pad: 5 },
  series: [{ data: tok_H57e2, color: '#3B3B2F', width: 2.5, smooth: true }]
});
makePanel({
  area: { l: 991, t: 1290, r: 1409, b: 1554 }, bg: '#CDEBFA', topBar: { color: '#6B7B80', width: 7 },
  x: { min: 0, max: 0.2, ticks: ticksTok02, labels: labelsTok02, minor: 0.01, font: 40, pad: 25 },
  y: { min: 0, max: 1.5, ticks: ticksTokY, labels: labelsTokY, minor: 0.1, font: 40, pad: 13 },
  series: [{ data: tok_H18e3, color: '#1F3F4F', width: 2.5, smooth: true }]
});
makePanel({
  area: { l: 1564, t: 1287, r: 1992, b: 1554 }, bg: '#ADEDDD', fillInset: { l: 0, t: 0, r: 5, b: 0 }, topBar: { color: '#222', width: 5 },
  x: { min: 0, max: 0.2, ticks: ticksTok02, labels: labelsTok02, minor: 0.01, font: 40, pad: 28 },
  y: { min: 0, max: 1.5, ticks: ticksTokY, labels: labelsTokY, minor: 0.1, font: 40, pad: 12 },
  series: [{ data: tok_MP01, color: '#0F3B2B', width: 2.5, smooth: true }]
});
makePanel({
  area: { l: 2207, t: 1283, r: 2632, b: 1549 }, bg: '#ADEDDD', fillInset: { l: 0, t: 0, r: 10, b: 0 }, topBar: { color: '#222', width: 5 },
  x: { min: 0, max: 0.2, ticks: ticksTok02, labels: labelsTok02, minor: 0.01, font: 40, pad: 26 },
  y: { min: 0, max: 1.5, ticks: ticksTokY, labels: labelsTokY, minor: 0.1, font: 40, pad: 11 },
  series: [{ data: tok_MP03, color: '#0F3B2B', width: 2.5, smooth: true }]
});

// ---- mode legends (dash + n label) ----
const legendSpots = [
  { dashX: 1007, dashW: 10, dashY: [717, 753, 791, 827, 864, 901] },
  { dashX: 1582, dashW: 18, dashY: [720, 757, 794, 832, 868, 905], textX: 1628, textY: [707, 743, 782, 819, 856, 892] },
  { dashX: 2191, dashW: 19, dashY: [732, 768, 807, 843, 882, 920], textX: 2238, textY: [724, 761, 797, 834, 868, 905] }
];
const legendBox = document.getElementById('legends');
legendSpots.forEach(sp => {
  modeNames.forEach((name, i) => {
    const d = document.createElement('div');
    d.className = 'dash';
    d.style.left = sp.dashX + 'px';
    d.style.top = (sp.dashY[i] - 1.5) + 'px';
    d.style.width = sp.dashW + 'px';
    d.style.background = modeColors[i];
    legendBox.appendChild(d);
    if (sp.textX) {
      const t = document.createElement('div');
      t.className = 't';
      t.style.fontSize = '42px';
      t.dataset.cx = sp.textX;
      t.dataset.cy = sp.textY[i];
      t.dataset.w = name.length > 2 ? 48 : 31;
      t.textContent = name;
      document.getElementById('page').appendChild(t);
    }
  });
});

// ---- text placement: center on (cx, cy), squeeze to the measured width ----
function placeText() {
  document.querySelectorAll('.t').forEach(el => {
    const w = el.offsetWidth, h = el.offsetHeight;
    const s = el.dataset.w ? (+el.dataset.w / w) : 1;
    el.style.left = (+el.dataset.cx - w / 2) + 'px';
    el.style.top = (+el.dataset.cy - h / 2) + 'px';
    el.style.transform = (el.dataset.rot ? 'rotate(-90deg) ' : '') + 'scaleX(' + s + ')';
  });
}
placeText();
document.fonts.ready.then(placeText);
</script>
</body>
</html>
